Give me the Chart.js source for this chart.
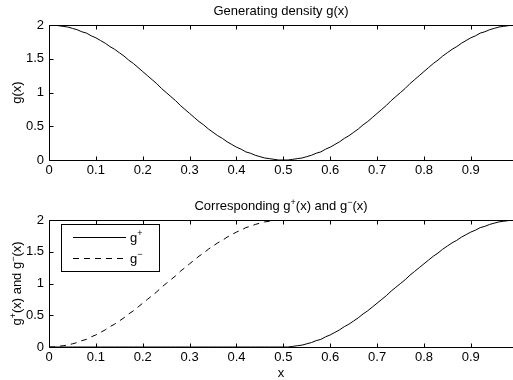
<!DOCTYPE html>
<html><head><meta charset="utf-8">
<script src="https://cdn.jsdelivr.net/npm/chart.js@4.4.1/dist/chart.umd.min.js"></script>
<style>
html,body{margin:0;padding:0;background:#fff;}
#wrap{position:relative;width:513px;height:380px;overflow:hidden;background:#fff;}
canvas{position:absolute;left:0;}
</style></head><body>
<div id="wrap">
<canvas id="cTop" width="513" height="190" style="top:0"></canvas>
<canvas id="cBot" width="513" height="190" style="top:190px"></canvas>
</div>
<script>
// sample positions
const xValues = [0,0.01,0.02,0.03,0.04,0.05,0.06,0.07,0.08,0.09,
 0.10,0.11,0.12,0.13,0.14,0.15,0.16,0.17,0.18,0.19,
 0.20,0.21,0.22,0.23,0.24,0.25,0.26,0.27,0.28,0.29,
 0.30,0.31,0.32,0.33,0.34,0.35,0.36,0.37,0.38,0.39,
 0.40,0.41,0.42,0.43,0.44,0.45,0.46,0.47,0.48,0.49,
 0.50,0.51,0.52,0.53,0.54,0.55,0.56,0.57,0.58,0.59,
 0.60,0.61,0.62,0.63,0.64,0.65,0.66,0.67,0.68,0.69,
 0.70,0.71,0.72,0.73,0.74,0.75,0.76,0.77,0.78,0.79,
 0.80,0.81,0.82,0.83,0.84,0.85,0.86,0.87,0.88,0.89,
 0.90,0.91,0.92,0.93,0.94,0.95,0.96,0.97,0.98,0.99];

// generating density g(x)
const gValues = [2.00,2.00,1.99,1.98,1.97,1.95,1.93,1.90,1.88,1.84,
 1.81,1.77,1.73,1.68,1.64,1.59,1.54,1.48,1.43,1.37,
 1.31,1.25,1.19,1.13,1.06,1.00,0.94,0.88,0.81,0.75,
 0.69,0.63,0.57,0.52,0.46,0.41,0.36,0.32,0.27,0.23,
 0.19,0.16,0.12,0.10,0.07,0.05,0.03,0.02,0.01,0.00,
 0.00,0.00,0.01,0.02,0.03,0.05,0.07,0.10,0.12,0.16,
 0.19,0.23,0.27,0.32,0.36,0.41,0.46,0.52,0.57,0.63,
 0.69,0.75,0.81,0.88,0.94,1.00,1.06,1.13,1.19,1.25,
 1.31,1.37,1.43,1.48,1.54,1.59,1.64,1.68,1.73,1.77,
 1.81,1.84,1.88,1.90,1.93,1.95,1.97,1.98,1.99,2.00];

// increasing part g+(x)
const gPlusValues = [0,0,0,0,0,0,0,0,0,0,
 0,0,0,0,0,0,0,0,0,0,
 0,0,0,0,0,0,0,0,0,0,
 0,0,0,0,0,0,0,0,0,0,
 0,0,0,0,0,0,0,0,0,0,
 0.00,0.00,0.01,0.02,0.03,0.05,0.07,0.10,0.12,0.16,
 0.19,0.23,0.27,0.32,0.36,0.41,0.46,0.52,0.57,0.63,
 0.69,0.75,0.81,0.88,0.94,1.00,1.06,1.13,1.19,1.25,
 1.31,1.37,1.43,1.48,1.54,1.59,1.64,1.68,1.73,1.77,
 1.81,1.84,1.88,1.90,1.93,1.95,1.97,1.98,1.99,2.00];

// decreasing part g-(x)
const gMinusValues = [0.00,0.00,0.01,0.02,0.03,0.05,0.07,0.10,0.12,0.16,
 0.19,0.23,0.27,0.32,0.36,0.41,0.46,0.52,0.57,0.63,
 0.69,0.75,0.81,0.87,0.94,1.00,1.06,1.12,1.19,1.25,
 1.31,1.37,1.43,1.48,1.54,1.59,1.64,1.68,1.73,1.77,
 1.81,1.84,1.88,1.90,1.93,1.95,1.97,1.98,1.99,2.00,
 2,2,2,2,2,2,2,2,2,2,
 2,2,2,2,2,2,2,2,2,2,
 2,2,2,2,2,2,2,2,2,2,
 2,2,2,2,2,2,2,2,2,2,
 2,2,2,2,2,2,2,2,2,2];

const xTickStep = 0.1;
const yTickStep = 0.5;

const FONT = '"Liberation Sans", Arial, Helvetica, sans-serif';
const FS = 13;

function pts(ys){ return xValues.map((x,i)=>({x:x, y:ys[i]})); }
function fmt(v){ return String(Math.round(v*100)/100); }

// text with optional superscript pieces: parts = [[text, isSup], ...]
function richWidth(ctx, parts, size){
  let w = 0;
  for (const [t, sup] of parts){
    ctx.font = (sup ? Math.round(size*0.7) : size) + 'px ' + FONT;
    w += ctx.measureText(t).width;
  }
  return w;
}
function drawRich(ctx, parts, x, y, size, align){
  const w = richWidth(ctx, parts, size);
  let cx = align === 'center' ? x - w/2 : (align === 'right' ? x - w : x);
  ctx.textBaseline = 'alphabetic';
  ctx.textAlign = 'left';
  ctx.fillStyle = '#000';
  for (const [t, sup] of parts){
    ctx.font = (sup ? Math.round(size*0.7) : size) + 'px ' + FONT;
    ctx.fillText(t, cx, sup ? y - size*0.42 : y);
    cx += ctx.measureText(t).width;
  }
}

// axes frame (the right edge sits just past the canvas) with inward tick marks
const framePlugin = {
  id: 'frame',
  afterDraw(chart, args, opts){
    const ctx = chart.ctx, a = chart.chartArea;
    const xs = chart.scales.x, ys = chart.scales.y;
    const L = Math.round(a.left)+0.5, R = Math.round(a.right)+0.5;
    const T = Math.round(a.top)+0.5, B = Math.round(a.bottom)+0.5;
    const tl = 4;
    ctx.save();
    ctx.strokeStyle = '#000';
    ctx.lineWidth = 1;
    ctx.setLineDash([]);
    ctx.beginPath();
    ctx.moveTo(R, T); ctx.lineTo(L, T); ctx.lineTo(L, B); ctx.lineTo(R, B);
    for (const t of xs.ticks){
      const px = Math.round(xs.getPixelForValue(t.value))+0.5;
      ctx.moveTo(px, B); ctx.lineTo(px, B - tl);
      ctx.moveTo(px, T); ctx.lineTo(px, T + tl);
    }
    for (const t of ys.ticks){
      const py = Math.round(ys.getPixelForValue(t.value))+0.5;
      ctx.moveTo(L, py); ctx.lineTo(L + tl, py);
    }
    ctx.stroke();

    const midX = (a.left + a.right)/2, midY = (a.top + a.bottom)/2;
    drawRich(ctx, opts.title, midX, a.top - 10, FS, 'center');
    ctx.save();
    ctx.translate(21, midY);
    ctx.rotate(-Math.PI/2);
    drawRich(ctx, opts.ylabel, 0, 0, FS, 'center');
    ctx.restore();
    if (opts.xlabel) drawRich(ctx, opts.xlabel, midX, a.bottom + 30, FS, 'center');

    if (opts.legend){
      const lx = a.left + 12, ly = a.top + 4, lw = 98, lh = 47;
      ctx.fillStyle = '#fff';
      ctx.fillRect(lx, ly, lw, lh);
      ctx.strokeRect(Math.round(lx)+0.5, Math.round(ly)+0.5, lw, lh);
      chart.data.datasets.forEach((ds, i) => {
        const yy = Math.round(ly + 13 + i*21)+0.5;
        ctx.beginPath();
        ctx.setLineDash(ds.borderDash || []);
        ctx.lineWidth = 1;
        ctx.strokeStyle = '#000';
        ctx.moveTo(lx + 12, yy); ctx.lineTo(lx + 65, yy);
        ctx.stroke();
        ctx.setLineDash([]);
        drawRich(ctx, ds.richLabel, lx + 69, yy + 4, FS, 'left');
      });
    }
    ctx.restore();
  }
};

function baseOptions(topPad, xAxisH, frame){
  return {
    responsive: false,
    animation: false,
    devicePixelRatio: 1,
    layout: { padding: { top: topPad, left: 0, right: 0, bottom: 0 } },
    elements: { point: { radius: 0 }, line: { tension: 0 } },
    plugins: { legend: { display: false }, tooltip: { enabled: false }, title: { display: false }, frame: frame },
    scales: {
      x: {
        type: 'linear', min: 0, max: 0.99,
        grid: { display: false, drawTicks: false }, border: { display: false },
        ticks: { stepSize: xTickStep, includeBounds: false, autoSkip: false, maxRotation: 0,
                 color: '#000', padding: 3, font: { family: FONT, size: FS }, callback: fmt },
        afterFit: s => { s.height = xAxisH; }
      },
      y: {
        type: 'linear', min: 0, max: 2,
        grid: { display: false, drawTicks: false }, border: { display: false },
        ticks: { stepSize: yTickStep, color: '#000', padding: 5, font: { family: FONT, size: FS }, callback: fmt },
        afterFit: s => { s.width = 49; }
      }
    }
  };
}

new Chart(document.getElementById('cTop'), {
  type: 'line',
  data: { datasets: [{ label: 'g(x)', data: pts(gValues), borderColor: '#000', borderWidth: 1, fill: false }] },
  options: baseOptions(25, 30, {
    title: [['Generating density g(x)', false]],
    ylabel: [['g(x)', false]]
  }),
  plugins: [framePlugin]
});

new Chart(document.getElementById('cBot'), {
  type: 'line',
  data: { datasets: [
    { label: 'g+', richLabel: [['g', false], ['+', true]], data: pts(gPlusValues), borderColor: '#000', borderWidth: 1, fill: false },
    { label: 'g-', richLabel: [['g', false], ['\u2212', true]], data: pts(gMinusValues), borderColor: '#000', borderWidth: 1, borderDash: [6, 5], fill: false }
  ] },
  options: baseOptions(30, 33, {
    title: [['Corresponding g', false], ['+', true], ['(x) and g', false], ['\u2212', true], ['(x)', false]],
    ylabel: [['g', false], ['+', true], ['(x) and g', false], ['\u2212', true], ['(x)', false]],
    xlabel: [['x', false]],
    legend: true
  }),
  plugins: [framePlugin]
});
</script>
</body></html>
